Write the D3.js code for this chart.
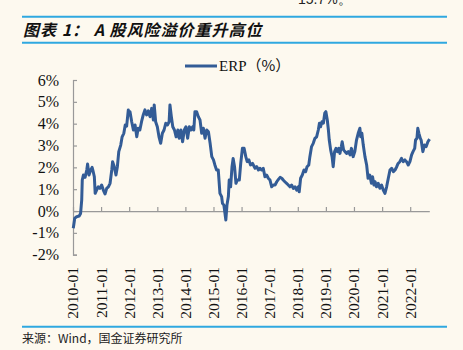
<!DOCTYPE html>
<html><head><meta charset="utf-8">
<script src="https://cdn.jsdelivr.net/npm/d3@7"></script>
<style>
html,body{margin:0;padding:0;background:#FDF9EF;}
svg{display:block;}
</style></head>
<body>
<svg id="c" width="463" height="350"></svg>
<script>
// ---- data (decimal year, ERP %) ----
const t = [
2010.01,2010.06,2010.13,2010.22,2010.27,2010.31,2010.33,2010.37,2010.43,2010.49,2010.52,2010.57,2010.63,2010.68,2010.72,2010.76,2010.79,2010.84,2010.90,2010.96,
2011.02,2011.08,2011.14,2011.20,2011.26,2011.32,2011.38,2011.41,2011.47,2011.53,2011.58,2011.63,2011.70,2011.75,2011.81,2011.86,2011.91,2011.97,2012.00,
2012.03,2012.09,2012.15,2012.21,2012.27,2012.32,2012.38,2012.44,2012.50,2012.56,2012.62,2012.68,2012.74,2012.80,2012.86,2012.89,2012.94,
2013.00,2013.06,2013.12,2013.18,2013.24,2013.30,2013.36,2013.42,2013.45,2013.50,2013.55,2013.61,2013.67,2013.73,2013.78,2013.84,2013.90,2013.96,
2014.02,2014.08,2014.14,2014.20,2014.26,2014.30,2014.34,2014.40,2014.46,2014.52,2014.58,2014.64,2014.70,2014.76,2014.82,2014.88,2014.94,
2015.00,2015.05,2015.11,2015.17,2015.23,2015.29,2015.32,2015.37,2015.41,2015.44,2015.48,2015.53,2015.56,2015.61,2015.66,2015.70,2015.75,2015.80,2015.85,2015.92,2015.97,
2016.03,2016.09,2016.15,2016.20,2016.26,2016.32,2016.39,2016.45,2016.48,2016.54,2016.60,2016.65,2016.71,2016.77,2016.83,2016.89,2016.95,
2017.01,2017.07,2017.13,2017.19,2017.25,2017.31,2017.37,2017.43,2017.48,2017.54,2017.60,2017.66,2017.72,2017.78,2017.84,2017.90,2017.96,
2018.02,2018.05,2018.10,2018.16,2018.22,2018.28,2018.33,2018.39,2018.43,2018.49,2018.55,2018.61,2018.67,2018.73,2018.77,2018.81,2018.86,2018.91,2018.96,
2019.00,2019.05,2019.09,2019.12,2019.17,2019.22,2019.26,2019.31,2019.36,2019.41,2019.46,2019.50,2019.55,2019.58,2019.63,2019.68,2019.74,2019.80,2019.86,2019.91,2019.97,
2020.03,2020.09,2020.15,2020.21,2020.24,2020.28,2020.33,2020.39,2020.45,2020.50,2020.56,2020.62,2020.66,2020.71,2020.75,2020.80,2020.86,2020.92,2020.98,
2021.04,2021.10,2021.16,2021.22,2021.28,2021.34,2021.40,2021.46,2021.52,2021.57,2021.63,2021.69,2021.75,2021.81,2021.87,2021.93,2021.99,
2022.05,2022.10,2022.16,2022.19,2022.24,2022.27,2022.31,2022.36,2022.39,2022.45,2022.51,2022.57,2022.63,2022.69
];
const erp = [
-0.79,-0.34,-0.26,-0.23,-0.11,0.50,1.42,1.65,1.54,1.88,2.15,1.65,1.88,2.00,1.80,1.57,0.81,0.96,1.11,1.04,
1.19,0.96,0.78,1.04,1.11,1.27,1.88,2.26,2.03,1.65,2.03,2.72,3.02,3.40,3.56,3.94,3.89,4.63,4.40,
4.55,4.09,3.71,3.94,3.40,3.79,3.71,4.09,4.40,4.63,4.40,4.59,4.32,4.70,4.17,4.86,4.09,
3.86,3.40,3.10,3.56,3.71,4.02,3.94,4.09,4.86,4.32,3.86,3.71,3.40,3.71,3.33,3.71,3.17,3.71,
3.86,3.33,3.86,3.71,3.86,3.71,4.55,4.55,4.32,4.17,3.56,3.79,3.33,3.71,3.63,3.10,2.49,
2.34,2.11,1.88,1.88,0.81,0.66,0.35,0.27,-0.11,-0.41,0.27,0.66,1.42,1.11,2.03,2.41,2.03,1.27,1.42,1.42,2.18,
2.87,2.87,2.49,2.26,2.34,2.11,2.18,2.03,1.96,2.03,1.88,1.96,1.88,1.96,1.57,1.65,1.50,
1.42,1.11,1.19,1.19,1.34,1.45,1.54,1.50,1.42,1.34,1.27,1.19,1.11,1.19,1.04,1.11,0.96,
1.11,0.88,1.50,1.65,1.88,1.80,2.03,2.11,2.49,2.95,3.10,3.33,3.40,3.71,4.02,3.86,4.09,4.02,4.48,
4.55,4.17,3.71,3.25,2.80,2.49,2.03,2.72,2.87,2.72,2.87,2.64,2.95,3.17,2.80,2.72,2.64,2.72,2.57,2.87,2.49,
2.72,3.25,3.56,3.79,3.40,3.56,3.02,2.49,2.11,1.50,1.65,1.27,1.57,1.19,1.34,1.11,1.27,1.04,1.19,
0.96,0.81,1.11,1.50,1.88,1.96,1.80,1.88,2.03,2.18,2.26,2.41,2.26,2.34,2.26,2.11,2.26,
2.57,2.72,2.87,3.25,3.33,3.79,3.56,3.33,3.25,2.72,3.02,2.95,3.17,3.29
];
const xTickLabels = ["2010-01","2011-01","2012-01","2013-01","2014-01","2015-01","2016-01","2017-01","2018-01","2019-01","2020-01","2021-01","2022-01"];
const yTicks = [-2,-1,0,1,2,3,4,5,6];
const seriesName = "ERP（%）";
const title = "图表 1： A 股风险溢价重升高位";
const source = "来源：Wind，国金证券研究所";
const topText = "15.7%。";

// ---- helpers ----
const toDate = v => { const y = Math.floor(v); const a = new Date(y,0,1), b = new Date(y+1,0,1); return new Date(+a + (v-y)*(b-a)); };
const parseYM = s => { const [y,m] = s.split("-").map(Number); return new Date(y, m-1, 1); };

const svg = d3.select("#c");
const x = d3.scaleTime().domain([new Date(2010,0,1), toDate(2022.68)]).range([73, 429.3]);
const y = d3.scaleLinear().domain([-2,6]).range([254.7, 80]);

const blue = "#2FA8E0";
// top cut text (cut off in the reference too)
svg.append("text").attr("x",298).attr("y",4).attr("font-family","Liberation Sans, Arial, sans-serif")
  .attr("font-size",14).attr("fill","#222").text(topText);
// rules
[16.7, 42.7, 326.7].forEach(yy => svg.append("line").attr("x1",22).attr("x2",447).attr("y1",yy).attr("y2",yy)
  .attr("stroke",blue).attr("stroke-width",2));
// title
svg.append("text").attr("x",23).attr("y",35.5)
  .attr("font-family","'Noto Sans CJK SC', sans-serif").attr("font-weight","bold").attr("font-style","italic")
  .attr("font-size",16).attr("letter-spacing",1).attr("fill","#111").text(title);
// source
svg.append("text").attr("x",22).attr("y",343)
  .attr("font-family","'Noto Sans CJK SC', sans-serif").attr("font-size",12).attr("fill","#222").text(source);

// y axis
const yAxis = d3.axisLeft(y).tickValues(yTicks).tickFormat(d => d + "%").tickSize(-4).tickPadding(14);
const gy = svg.append("g").attr("transform","translate(73,0)").call(yAxis);
gy.select(".domain").attr("stroke","#999").attr("stroke-width",1.2);
gy.selectAll(".tick line").attr("stroke","#999").attr("stroke-width",1.2);
gy.selectAll("text").attr("font-family","'Liberation Serif', 'Times New Roman', serif").attr("font-size",16).attr("fill","#111");

// x axis at 0%
const xTicks = xTickLabels.map(parseYM);
const xAxis = d3.axisTop(x).tickValues(xTicks).tickFormat("").tickSize(4).tickSizeOuter(0);
const gx = svg.append("g").attr("transform",`translate(0,${y(0)})`).call(xAxis);
gx.select(".domain").attr("stroke","#999").attr("stroke-width",1.2);
gx.selectAll(".tick line").attr("stroke","#999").attr("stroke-width",1.2);
// rotated labels
svg.append("g").selectAll("text").data(xTickLabels).join("text")
  .attr("transform", d => `translate(${x(parseYM(d))},267) rotate(-90)`)
  .attr("text-anchor","end").attr("dy","0.35em")
  .attr("font-family","'Liberation Serif', 'Times New Roman', serif").attr("font-size",15.5).attr("fill","#111")
  .text(d => d);

// line
const pts = t.map((v,i) => [toDate(v), erp[i]]);
svg.append("path").datum(pts)
  .attr("d", d3.line().x(d => x(d[0])).y(d => y(d[1])))
  .attr("fill","none").attr("stroke","#335C96").attr("stroke-width",3).attr("stroke-linejoin","round");

// legend
svg.append("line").attr("x1",185).attr("x2",217).attr("y1",66).attr("y2",66).attr("stroke","#335C96").attr("stroke-width",3);
const lt = svg.append("text").attr("x",219).attr("y",66).attr("dy","0.35em").attr("font-size",15).attr("fill","#111");
lt.append("tspan").attr("font-family","'Liberation Serif', serif").text("ERP");
lt.append("tspan").attr("font-family","'Noto Sans CJK SC', sans-serif").text("（%）");
</script>
</body></html>
